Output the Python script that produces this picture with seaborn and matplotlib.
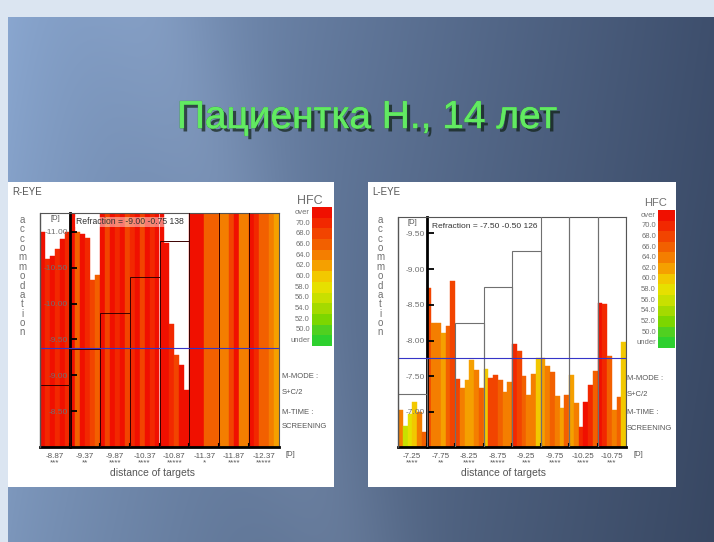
import numpy as np
import pandas as pd
import matplotlib
matplotlib.use("Agg")
import matplotlib.pyplot as plt
import matplotlib.patheffects as pe
from matplotlib.patches import Rectangle
from matplotlib.colors import ListedColormap, to_rgb
import seaborn as sns

sns.set_theme(style="white")
plt.rcParams['font.family'] = ['Liberation Sans', 'DejaVu Sans']

W, H = 714, 542

# ---------------- data ----------------
title = "Пациентка Н., 14 лет"

hfc_levels = [72, 70, 68, 66, 64, 62, 60, 58, 56, 54, 52, 50, 48]
hfc_labels = ["over", "70.0", "68.0", "66.0", "64.0", "62.0", "60.0",
              "58.0", "56.0", "54.0", "52.0", "50.0", "under"]
hfc_colors = ["#f01000", "#f22800", "#f24400", "#f26000", "#f47e00", "#f5a000",
              "#f2c800", "#e6e000", "#c8e000", "#a4da00", "#7cd600", "#50d020", "#2ed02e"]

# R-EYE
r_targets = [-8.87, -9.37, -9.87, -10.37, -10.87, -11.37, -11.87, -12.37]
r_target_labels = ["-8.87", "-9.37", "-9.87", "-10.37", "-10.87", "-11.37", "-11.87", "-12.37"]
r_marks = ["***", "**", "****", "****", "*****", "*", "****", "*****"]
r_acc = [-11.00, -10.62, -10.66, -10.76, -10.90, -11.00,
         -11.25, -11.00, -10.97, -10.92, -10.33, -10.40,
         -11.40, -11.40, -11.40, -11.40, -11.40, -11.40,
         -11.40, -11.40, -11.40, -11.40, -11.40, -11.40,
         -11.30, -10.85, -9.72, -9.28, -9.15, -8.80,
         -11.40, -11.40, -11.40, -11.40, -11.40, -11.40,
         -11.40, -11.40, -11.40, -11.40, -11.40, -11.40,
         -11.40, -11.40, -11.40, -11.40, -11.40, -11.40]
r_hfc = [72, 70, 72, 70, 72, 70,
         72, 66, 72, 70, 68, 66,
         72, 68, 72, 70, 72, 68,
         70, 72, 68, 72, 70, 72,
         72, 72, 70, 68, 72, 72,
         72, 72, 72, 66, 66, 66,
         64, 64, 68, 72, 64, 64,
         72, 70, 66, 66, 64, 62]
r_yticks = [-11.0, -10.5, -10.0, -9.5, -9.0, -8.5]
r_ylim = (-8.0, -11.265)
r_se = -9.375
r_refraction = "Refraction = -9.00 -0.75 138"

# L-EYE
l_targets = [-7.25, -7.75, -8.25, -8.75, -9.25, -9.75, -10.25, -10.75]
l_target_labels = ["-7.25", "-7.75", "-8.25", "-8.75", "-9.25", "-9.75", "-10.25", "-10.75"]
l_marks = ["****", "**", "****", "*****", "***", "****", "****", "***"]
l_acc = [-7.03, -6.80, -6.97, -7.14, -7.00, -6.72,
         -8.74, -8.25, -8.25, -8.11, -8.20, -8.84,
         -7.46, -7.33, -7.45, -7.73, -7.59, -7.33,
         -7.60, -7.48, -7.52, -7.45, -7.28, -7.42,
         -7.95, -7.85, -7.50, -7.24, -7.53, -7.76,
         -7.75, -7.65, -7.56, -7.23, -7.05, -7.24,
         -7.52, -7.12, -6.79, -7.14, -7.38, -7.57,
         -8.53, -8.51, -7.78, -7.03, -7.21, -7.98]
l_hfc = [64, 56, 58, 60, 64, 66,
         68, 64, 64, 62, 66, 68,
         68, 64, 62, 62, 64, 66,
         60, 68, 68, 66, 64, 64,
         70, 68, 66, 64, 64, 60,
         62, 64, 66, 64, 62, 66,
         62, 64, 70, 72, 70, 66,
         72, 70, 66, 64, 66, 60]
l_yticks = [-9.5, -9.0, -8.5, -8.0, -7.5, -7.0]
l_ylim = (-6.51, -9.73)
l_se = -7.75
l_refraction = "Refraction = -7.50 -0.50 126"

hfc_color = dict(zip(hfc_levels, hfc_colors))

# ---------------- figure ----------------
fig = plt.figure(figsize=(W / 100, H / 100), dpi=100)

def fx(x):
    return x / W

def fy(y):
    return 1 - y / H

# background slide
yy, xx = np.mgrid[0:H, 0:W]
t = np.clip((xx - 8) / (W - 8), 0, 1) ** 0.85
c_left = np.array(to_rgb("#8aa7d0"))
c_right = np.array(to_rgb("#3e4f6d"))
img = c_left * (1 - t)[..., None] + c_right * t[..., None]
img = img * (1 - 0.10 * (yy / H))[..., None]
band = np.exp(-((xx - 150 - 0.35 * yy) / 70.0) ** 2) * 0.05
img = np.clip(img + band[..., None], 0, 1)
light = np.array(to_rgb("#dbe5f1"))
img[:17, :, :] = light
img[:, :8, :] = light
bg = fig.add_axes([0, 0, 1, 1], zorder=-10)
bg.imshow(img, aspect="auto", interpolation="bilinear")
bg.axis("off")

# white panels
for (x0, x1) in [(8, 334), (368, 676)]:
    fig.patches.append(Rectangle((fx(x0), fy(487)), fx(x1) - fx(x0), fy(182) - fy(487),
                                 transform=fig.transFigure, facecolor="white",
                                 edgecolor="none", zorder=-5))

fig.text(fx(367), fy(118), title, ha="center", va="center", fontsize=28,
         color="#62ea62",
         path_effects=[pe.withSimplePatchShadow(offset=(2.5, -2.5), shadow_rgbFace="#0a1a0a", alpha=0.65),
                       pe.withStroke(linewidth=0.6, foreground="#3aa83a"), pe.Normal()])

GRAY = "#707070"


def draw_panel(rect, acc, hfc, targets, tlabels, marks, ylim, yticks, se, box_col, box_lw):
    ax = fig.add_axes(rect)
    n = len(acc)
    per = n // len(targets)
    df = pd.DataFrame({"bar": np.arange(n), "acc": acc, "hfc": hfc})
    pal = {int(i): hfc_color[h] for i, h in zip(df["bar"], df["hfc"])}
    sns.barplot(data=df, x="bar", y="acc", hue="bar", palette=pal, width=1.0,
                saturation=1, legend=False, errorbar=None, ax=ax)
    for p in ax.patches:
        p.set_edgecolor(p.get_facecolor())
        p.set_linewidth(0.3)
    centers = [per * k + (per - 1) / 2 for k in range(len(targets))]
    ax.bar(centers, targets, width=per, fill=False, edgecolor=box_col,
           linewidth=box_lw, zorder=3)
    ax.axhline(se, color="#3535c8", lw=0.8, zorder=4)
    ax.set_xlim(-0.5, n - 0.5)
    ax.set_ylim(*ylim)
    ax.set_axisbelow(False)
    ax.set_xlabel("")
    ax.set_ylabel("")
    for s in ["top", "right"]:
        ax.spines[s].set_color("#555555")
        ax.spines[s].set_linewidth(0.8)
    ax.spines["left"].set_position(("data", per - 0.5))
    ax.spines["left"].set_color("black")
    ax.spines["left"].set_linewidth(2)
    ax.spines["bottom"].set_color("black")
    ax.spines["bottom"].set_linewidth(2)
    ax.axvline(-0.5, color="#555555", lw=1.0, clip_on=False, zorder=5)
    ax.set_yticks(yticks, labels=[f"{v:.2f}" for v in yticks])
    ax.tick_params(axis="y", left=True, direction="in", length=5, width=1.3,
                   color="black", labelsize=6, labelcolor=GRAY, pad=1.5)
    ax.set_xticks(centers, labels=[f"{a}\n{m}" for a, m in zip(tlabels, marks)])
    ax.tick_params(axis="x", which="major", bottom=False, length=0, labelsize=5.8,
                   labelcolor="#555555", pad=4)
    plt.setp(ax.get_xticklabels(), linespacing=0.9)
    ax.set_xticks([per * k - 0.5 for k in range(1, len(targets))], minor=True)
    ax.tick_params(axis="x", which="minor", bottom=True, direction="in", length=3,
                   width=1.5, color="black")
    return ax


def draw_hfc(rect):
    cax = fig.add_axes(rect)
    sns.heatmap(np.arange(len(hfc_levels)).reshape(-1, 1), cmap=ListedColormap(hfc_colors),
                vmin=-0.5, vmax=len(hfc_levels) - 0.5, cbar=False, xticklabels=False,
                yticklabels=hfc_labels, ax=cax)
    cax.tick_params(axis="y", left=False, length=0, labelsize=5.5, labelcolor=GRAY, pad=1.5)
    plt.setp(cax.get_yticklabels(), rotation=0)
    return cax


# ---- R-EYE ----
draw_panel([fx(40), fy(447), fx(279) - fx(40), fy(213) - fy(447)],
           r_acc, r_hfc, r_targets, r_target_labels, r_marks, r_ylim, r_yticks, r_se,
           "#3a0000", 0.7)
draw_hfc([fx(312), fy(346), fx(332) - fx(312), fy(207) - fy(346)])
fig.text(fx(12), fy(192), "R-EYE", fontsize=7, color="#555555", va="center")
fig.text(fx(22), fy(215), "\n".join("accommodation"), fontsize=7, color=GRAY,
         ha="center", va="top", linespacing=0.92)
fig.text(fx(55), fy(219), "[D]", fontsize=5.5, color="#555555", ha="center", va="center")
fig.text(fx(76), fy(222), r_refraction, fontsize=6.2, color="#333333", va="center",
         bbox=dict(facecolor="white", edgecolor="none", alpha=0.45, pad=0.6))
fig.text(fx(285), fy(455), "[D]", fontsize=5.5, color="#555555", va="center")
fig.text(fx(152), fy(473), "distance of targets", fontsize=7.5, color="#555555",
         ha="center", va="center")
fig.text(fx(310), fy(201), "HFC", fontsize=9, color=GRAY, ha="center", va="center")
for txt, yv in [("M-MODE :", 377), ("S+C/2", 393), ("M-TIME :", 413), ("SCREENING", 427)]:
    fig.text(fx(282), fy(yv), txt, fontsize=5.5, color="#555555", va="center")

# ---- L-EYE ----
draw_panel([fx(398), fy(447), fx(626) - fx(398), fy(217) - fy(447)],
           l_acc, l_hfc, l_targets, l_target_labels, l_marks, l_ylim, l_yticks, l_se,
           "#707070", 0.8)
draw_hfc([fx(658), fy(348), fx(675) - fx(658), fy(210) - fy(348)])
fig.text(fx(372), fy(192), "L-EYE", fontsize=7, color="#555555", va="center")
fig.text(fx(380), fy(215), "\n".join("accommodation"), fontsize=7, color=GRAY,
         ha="center", va="top", linespacing=0.92)
fig.text(fx(412), fy(222), "[D]", fontsize=5.5, color="#555555", ha="center", va="center")
fig.text(fx(432), fy(226), l_refraction, fontsize=6, color="#333333", va="center")
fig.text(fx(633), fy(455), "[D]", fontsize=5.5, color="#555555", va="center")
fig.text(fx(503), fy(473), "distance of targets", fontsize=7.5, color="#555555",
         ha="center", va="center")
fig.text(fx(656), fy(203), "HFC", fontsize=8, color=GRAY, ha="center", va="center")
for txt, yv in [("M-MODE :", 379), ("S+C/2", 394), ("M-TIME :", 413), ("SCREENING", 428)]:
    fig.text(fx(627), fy(yv), txt, fontsize=5.5, color="#555555", va="center")

fig.savefig("out.png", dpi=100)
